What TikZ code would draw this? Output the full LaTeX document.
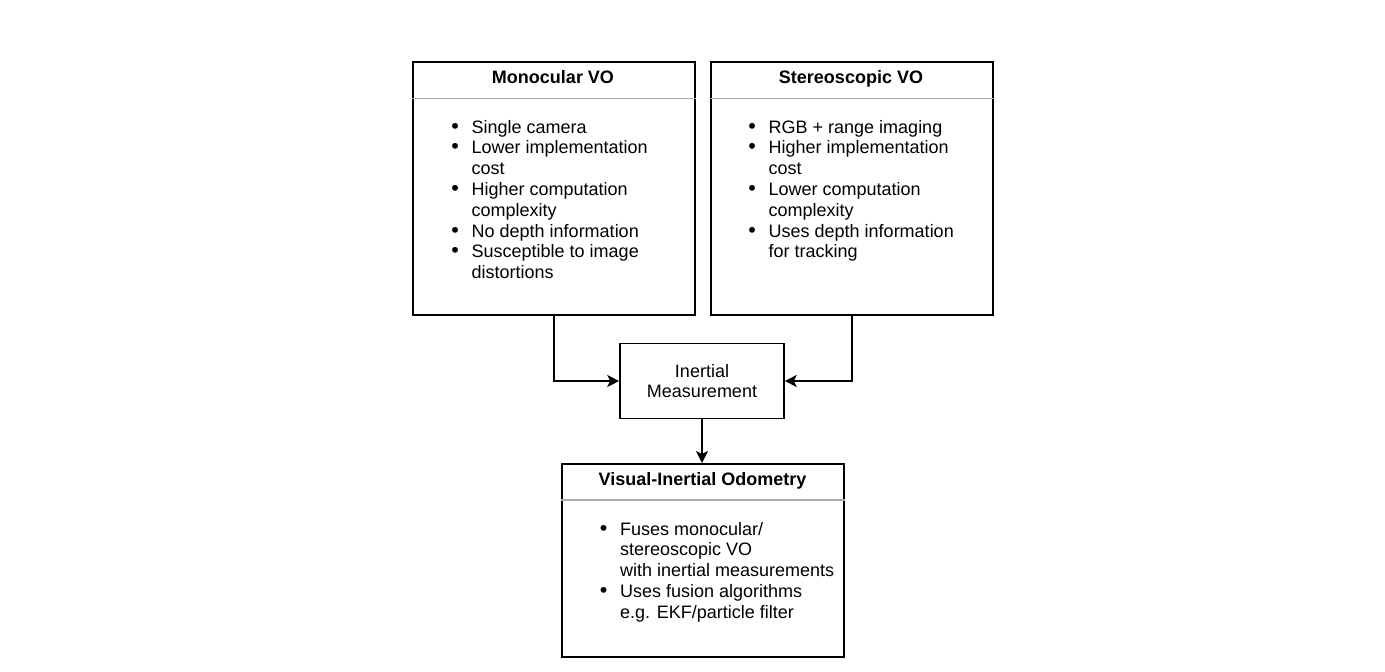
\documentclass[tikz,border=0pt]{standalone}
\usepackage{fontspec}
\setmainfont{Liberation Sans}
\usetikzlibrary{arrows.meta}
\definecolor{divgray}{RGB}{170,170,170}
\newcommand{\bl}{\makebox[12pt][c]{\scalebox{1.2}{\textbullet}}}
\begin{document}
\begin{tikzpicture}[x=1pt,y=-1pt,
  box/.style={draw=black, line width=1.6pt, fill=white, inner sep=0pt, anchor=north west},
  title/.style={anchor=base, inner sep=0pt, font=\fontsize{18}{21}\selectfont\bfseries},
  lst/.style={anchor=base west, inner sep=0pt, font=\fontsize{18}{20.8}\selectfont},
  plain/.style={draw=black, line width=1.6pt, inner sep=0pt, align=center, font=\fontsize{18}{20}\selectfont},
  divline/.style={draw=divgray, line width=1.2pt},
  conn/.style={draw=black, line width=1.6pt, -{Stealth[length=12pt,width=12pt,inset=3pt]}}]
\useasboundingbox[fill=white] (0,0) rectangle (1385,672);

% boxes
\node[box, minimum width=282pt, minimum height=253pt] (mono) at (412,61) {};
\node[box, minimum width=282pt, minimum height=253pt] (stereo) at (710,61) {};
\node[box, minimum width=282pt, minimum height=193pt] (vio) at (561,463) {};
\node[plain, minimum width=164pt, minimum height=75pt] (imu) at (702,381) {Inertial\\Measurement};

% dividers
\draw[divline] (mono.west |- 0,98.3) -- (mono.east |- 0,98.3);
\draw[divline] (stereo.west |- 0,98.3) -- (stereo.east |- 0,98.3);
\draw[divline] (vio.west |- 0,500) -- (vio.east |- 0,500);

% titles
\node[title] (monot) at (553,83.6) {Monocular VO};
\node[title] (stereot) at (851,83.6) {Stereoscopic VO};
\node[title] (viot) at (702.5,485.3) {Visual-Inertial Odometry};

% lists
\node[lst] (monol) at (449,133) {\begin{tabular}[t]{@{}l@{\hspace{10.5pt}}l@{}}
\bl & Single camera\\
\bl & Lower implementation\\
    & cost\\
\bl & Higher computation\\
    & complexity\\
\bl & No depth information\\
\bl & Susceptible to image\\
    & distortions
\end{tabular}};
\node[lst] (stereol) at (746,133) {\begin{tabular}[t]{@{}l@{\hspace{10.5pt}}l@{}}
\bl & RGB + range imaging\\
\bl & Higher implementation\\
    & cost\\
\bl & Lower computation\\
    & complexity\\
\bl & Uses depth information\\
    & for tracking
\end{tabular}};
\node[lst] (viol) at (597.5,535) {\begin{tabular}[t]{@{}l@{\hspace{10.5pt}}l@{}}
\bl & Fuses monocular/\\
    & stereoscopic VO\\
    & with inertial measurements\\
\bl & Uses fusion algorithms\\
    & e.g. EKF/particle filter
\end{tabular}};

% connectors
\draw[conn] (mono.south) |- (imu.west);
\draw[conn] (stereo.south) |- (imu.east);
\draw[conn] (imu.south) -- (imu.south |- vio.north);
\end{tikzpicture}
\end{document}
